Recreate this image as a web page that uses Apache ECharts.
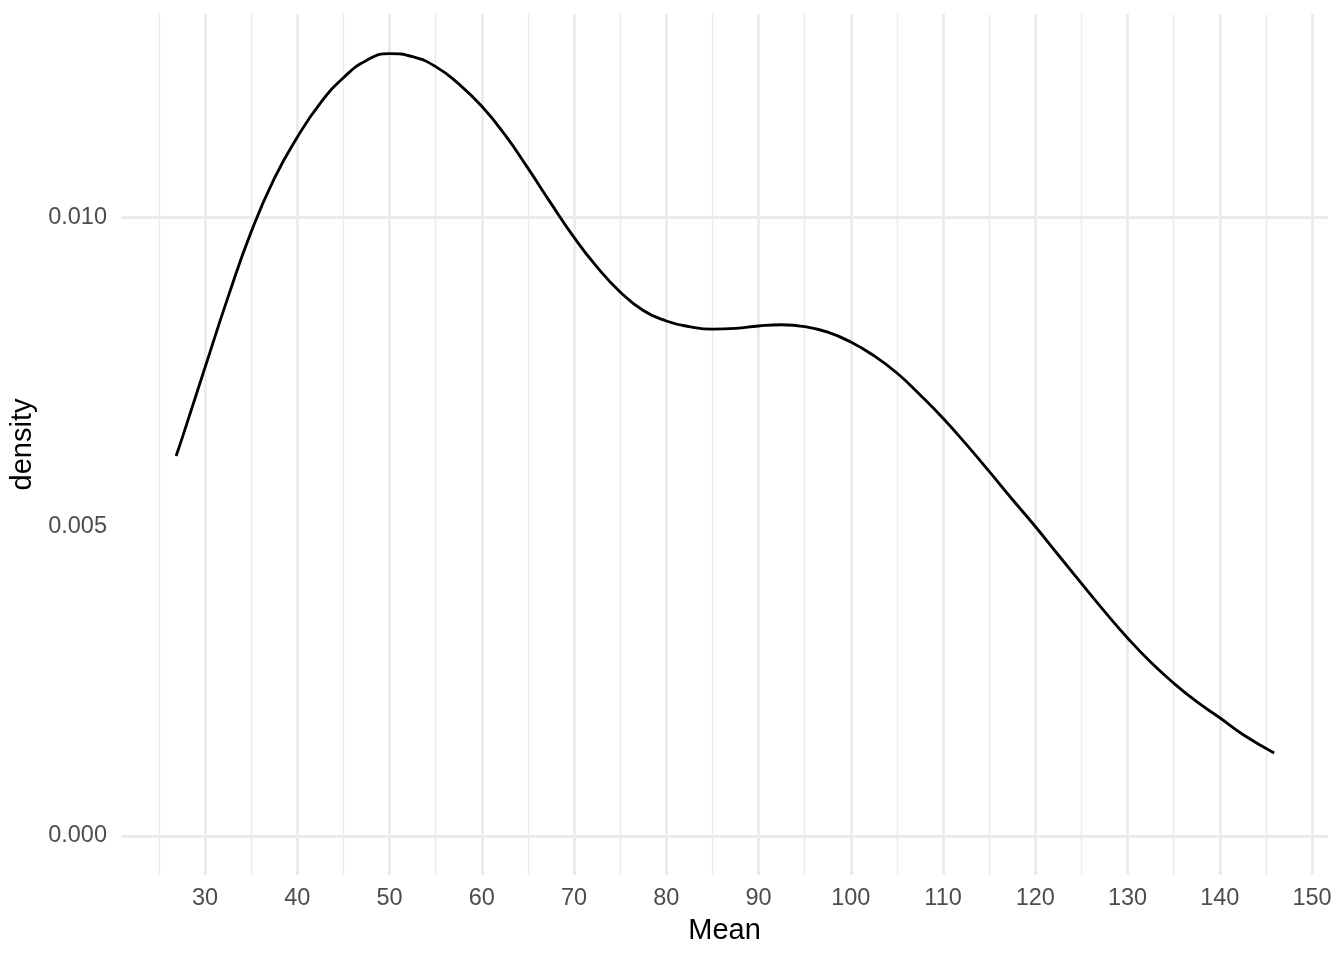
<!DOCTYPE html>
<html>
<head>
<meta charset="utf-8">
<style>
    html, body { margin: 0; padding: 0; background: #fff; }
    #chart { width: 1344px; height: 960px; }
</style>
<script src="https://cdn.jsdelivr.net/npm/echarts@6/dist/echarts.min.js"></script>
</head>
<body>
<div id="chart"></div>
<script>
    // density curve
    const meanValues = [26.86, 27.5, 30, 32.5, 35, 37.5, 40, 42.5, 45, 47.5, 50, 52.5, 55, 57.5, 60, 62.5, 65, 67.5, 70, 72.5, 75, 77.5, 80, 82.5, 85, 87.5, 90, 92.5, 95, 97.5, 100, 102.5, 105, 107.5, 110, 112.5, 115, 117.5, 120, 122.5, 125, 127.5, 130, 132.5, 135, 137.5, 140, 142.5, 145.9];
    const densityValues = [0.00614, 0.00642, 0.00757, 0.00871, 0.00976, 0.01062, 0.01129, 0.01184, 0.01225, 0.01253, 0.01264, 0.01259, 0.01243, 0.01215, 0.01179, 0.01133, 0.01079, 0.01022, 0.00967, 0.00919, 0.00879, 0.00849, 0.00832, 0.00823, 0.00819, 0.00820, 0.00824, 0.00826, 0.00823, 0.00814, 0.00798, 0.00776, 0.00748, 0.00713, 0.00675, 0.00633, 0.00589, 0.00544, 0.00500, 0.00454, 0.00408, 0.00363, 0.00320, 0.00281, 0.00247, 0.00217, 0.00191, 0.00164, 0.00134];

    // ticks and grid lines
    const xTicks = [30, 40, 50, 60, 70, 80, 90, 100, 110, 120, 130, 140, 150];
    const xMinor = [25, 35, 45, 55, 65, 75, 85, 95, 105, 115, 125, 135, 145];
    const yTicks = [0, 0.005, 0.01];
    const yMinor = [0.0025, 0.0075, 0.0125];

    const chart = echarts.init(document.getElementById('chart'));

    const major = { color: '#EBEBEB', width: 2.84, type: 'solid' };
    const minor = { color: '#EBEBEB', width: 1.42, type: 'solid' };
    const gridLines = []
        .concat(xMinor.map(v => ({ xAxis: v, lineStyle: minor })))
        .concat(yMinor.map(v => ({ yAxis: v, lineStyle: minor })))
        .concat(xTicks.map(v => ({ xAxis: v, lineStyle: major })))
        .concat(yTicks.map(v => ({ yAxis: v, lineStyle: major })));

    const font = '"Liberation Sans", Arial, Helvetica, sans-serif';

    const option = {
        animation: false,
        backgroundColor: '#fff',
        grid: { left: 121, right: 16, top: 14, bottom: 85, containLabel: false },
        xAxis: {
            type: 'value',
            min: 20.89,
            max: 151.73,
            name: 'Mean',
            nameLocation: 'middle',
            nameGap: 41,
            nameTextStyle: { fontFamily: font, fontSize: 29, color: '#000' },
            axisLine: { show: false },
            axisTick: { show: false },
            splitLine: { show: false },
            axisLabel: {
                customValues: xTicks,
                margin: 12,
                fontFamily: font,
                fontSize: 23.5,
                color: '#4D4D4D'
            }
        },
        yAxis: {
            type: 'value',
            min: -0.00063,
            max: 0.01328,
            name: 'density',
            nameLocation: 'middle',
            nameRotate: 90,
            nameGap: 80,
            nameTextStyle: { fontFamily: font, fontSize: 29, color: '#000' },
            axisLine: { show: false },
            axisTick: { show: false },
            splitLine: { show: false },
            axisLabel: {
                customValues: yTicks,
                margin: 14,
                fontFamily: font,
                fontSize: 23.5,
                color: '#4D4D4D',
                formatter: v => v.toFixed(3)
            }
        },
        series: [{
            type: 'line',
            data: [],
            silent: true,
            markLine: {
                silent: true,
                z: 1,
                symbol: 'none',
                label: { show: false },
                emphasis: { disabled: true },
                data: gridLines
            }
        }, {
            name: 'density',
            type: 'line',
            z: 3,
            smooth: 0.5,
            showSymbol: false,
            data: meanValues.map((m, i) => [m, densityValues[i]]),
            lineStyle: { color: '#000', width: 2.84 }
        }]
    };

    chart.setOption(option);
</script>
</body>
</html>
